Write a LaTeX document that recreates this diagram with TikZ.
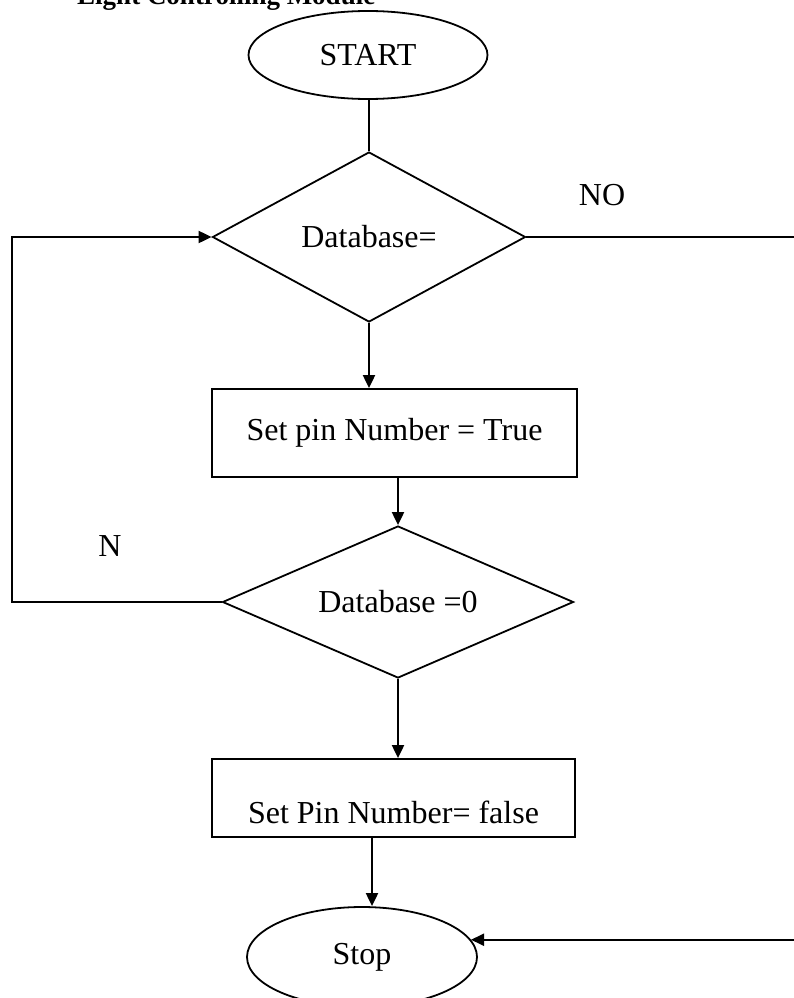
\documentclass[tikz,border=0pt]{standalone}
\usepackage{fontspec}
\setmainfont{Liberation Serif}
\usetikzlibrary{shapes.geometric,arrows.meta}

\begin{document}
\begin{tikzpicture}[
        x=1pt, y=-1pt,
        every node/.style={font=\fontsize{32}{38}\selectfont, line width=1.8pt},
        term/.style={ellipse, draw, inner sep=0pt},
        decide/.style={diamond, draw, inner sep=0pt},
        proc/.style={rectangle, draw, inner sep=0pt},
        flow/.style={line width=2pt},
        arr/.style={flow, -{Triangle[length=13pt,width=12pt]}}
      ]
      \useasboundingbox (0,0) rectangle (794,998);
      \clip (0,0) rectangle (794,998);
      \node[anchor=base west, font=\fontsize{27}{32}\selectfont\bfseries] (title) at (73,5) {Light Controlling Module};
      \node[term, minimum width=239pt, minimum height=88pt] (start) at (368,55) {START};
      \node[decide, aspect=1.84, minimum width=313pt, minimum height=170pt] (dbcheck) at (369,237) {Database=};
      \node[proc, minimum width=365pt, minimum height=88pt] (setTrue) at (394.5,433) {Set pin Number = True};
      \node[decide, aspect=2.3, minimum width=351pt, minimum height=152pt] (dbzero) at (398,602) {Database =0};
      \node[proc, minimum width=363pt, minimum height=78pt, text height=59pt, text depth=9pt, inner ysep=5pt] (setFalse) at (393.5,798) {Set Pin Number= false};
      \node[term, minimum width=230pt, minimum height=100pt] (stop) at (362,957) {Stop};
      \node (no) at (602,195) {NO};
      \node (n) at (110,546) {N};
      \coordinate (backL) at (12,602);
      \coordinate (outR) at (800,237);

      \draw[flow] (start.south -| dbcheck.north) -- (dbcheck.north);
      \draw[arr] (dbcheck.south) -- (dbcheck.south |- setTrue.north);
      \draw[arr] (setTrue.south -| dbzero.north) -- (dbzero.north);
      \draw[arr] (dbzero.south) -- (dbzero.south |- setFalse.north);
      \draw[arr] (setFalse.south -| 372,0) -- (372,0 |- stop.north);
      \draw[arr] (dbzero.west) -- (backL) |- (dbcheck.west);
      \draw[arr] (dbcheck.east) -- (outR) |- (stop.9);
    \end{tikzpicture}
\end{document}
